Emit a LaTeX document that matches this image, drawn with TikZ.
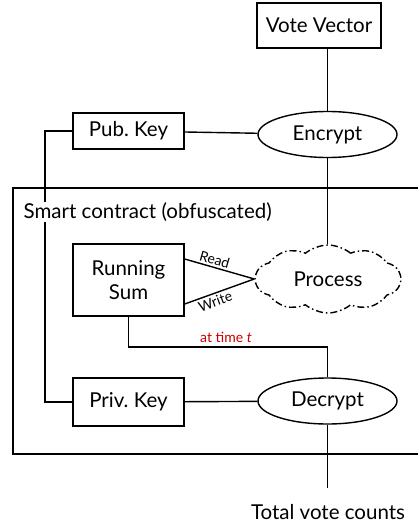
\documentclass[tikz,border=0pt]{standalone}
\usepackage{fontspec}
\setmainfont{Lato}
\usetikzlibrary{shapes.geometric,shapes.symbols}
\tikzset{
  big/.style={font=\fontsize{20.5}{24}\selectfont},
  box/.style={draw,rectangle,inner sep=0pt,big},
  oval/.style={draw,ellipse,inner sep=0pt,minimum width=139pt,minimum height=46pt,big},
  small/.style={font=\fontsize{14}{16}\selectfont}
}
\begin{document}
\begin{tikzpicture}[x=1pt,y=-1pt,line width=1.4pt]
      \useasboundingbox (0,0) rectangle (417,526);
      % smart contract frame
      \draw (418,188) -| (13,454) -- (418,454);
      \node[box,minimum width=124pt,minimum height=45pt] (vote) at (319,25.5) {Vote Vector};
      \node[oval] (enc) at (327.5,134.5) {Encrypt};
      \node[box,minimum width=111pt,minimum height=36pt] (pub) at (128.5,131) {Pub.\ Key};
      \node[box,minimum width=111pt,minimum height=72pt,align=center] (sum) at (128.5,280) {Running\\Sum};
      \node[draw,cloud,cloud puffs=10,cloud puff arc=80,aspect=2.2,dash pattern=on 7pt off 3pt on 1.5pt off 3pt,inner sep=0pt,minimum width=145pt,minimum height=68pt,big] (proc) at (328,279) {Process};
      \node[box,minimum width=111pt,minimum height=48pt] (priv) at (128.5,402) {Priv.\ Key};
      \node[oval] (dec) at (327.5,401) {Decrypt};
      \coordinate (kbus) at (45,0);
      \coordinate (tap) at (128.5,347);
      \coordinate (out) at (327.5,488);
      % wiring
      \draw (vote.south -| enc.north) -- (enc.north);
      \draw (pub) -- (enc);
      \draw (enc.south) -- (enc.south |- proc.north);
      \draw (pub.west) -- (pub.west -| kbus) -- (priv.west -| kbus) -- (priv.west);
      \draw (priv) -- (dec);
      \draw (sum.south) -- (tap) -| (dec.north);
      \draw (dec.south) -- (out);
      \draw ([yshift=21pt]sum.east) -- (proc.west) node[small,pos=0.4,above,sloped,inner sep=2pt] (rd) {Read};
      \draw ([yshift=-24pt]sum.east) -- (proc.west) node[small,pos=0.4,below,sloped,inner sep=2pt] (wr) {Write};
      \node[fill=white,inner sep=1pt,anchor=west,big] (sc) at (22,212) {Smart contract (obfuscated)};
      \node[small,text=red!80!black,anchor=south,inner sep=1pt] (tm) at (226,344) {at time \textit{t}};
      \node[big] (tot) at (328,512) {Total vote counts};
\end{tikzpicture}
\end{document}
